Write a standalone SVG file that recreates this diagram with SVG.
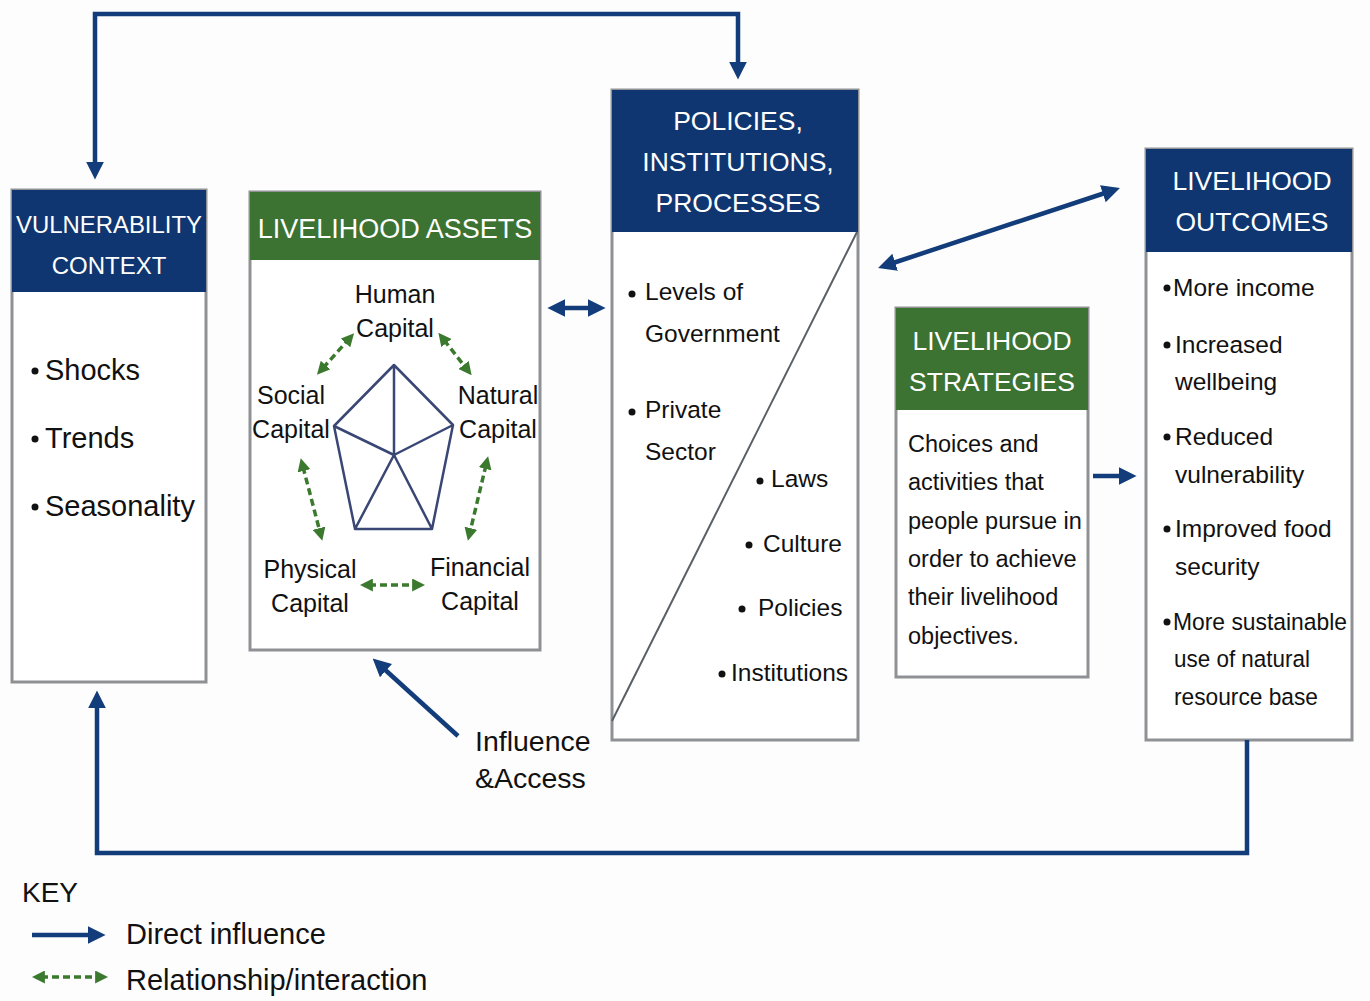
<svg xmlns="http://www.w3.org/2000/svg" width="1370" height="1001" viewBox="0 0 1370 1001">
<defs>
<style>
text{font-family:"Liberation Sans",Arial,sans-serif;fill:#111}
.hd{fill:#fff;font-size:26.5px;text-anchor:middle}
.box{fill:#fff;stroke:#8f9194;stroke-width:3}
.navy{fill:#0f3670}
.green{fill:#3c7232}
.lab{font-size:25px;text-anchor:middle}
.bl{font-size:24.5px}
.con{fill:none;stroke:#123c7a;stroke-width:4.5}
.rel{fill:none;stroke:#3b7a2e;stroke-width:3.5;stroke-dasharray:7 4}
.pent{fill:none;stroke:#3a4775;stroke-width:2.5;stroke-linejoin:round}
</style>
<marker id="an" viewBox="0 0 10 10" refX="3" refY="5" markerUnits="userSpaceOnUse" markerWidth="18" markerHeight="18" orient="auto-start-reverse"><path d="M0,0 L10,5 L0,10 z" fill="#123c7a"/></marker>
<marker id="ag" viewBox="0 0 10 10" refX="3" refY="5" markerUnits="userSpaceOnUse" markerWidth="13" markerHeight="13" orient="auto-start-reverse"><path d="M0,0 L10,5 L0,10 z" fill="#3b7a2e"/></marker>
</defs>
<rect width="1370" height="1001" fill="#fdfdfd"/>

<g id="vulnerability">
<rect class="box" x="12" y="190" width="194" height="492"/>
<rect class="navy" x="12" y="190" width="194" height="102"/>
<text class="hd" x="109" y="233" style="font-size:24px" textLength="186" lengthAdjust="spacingAndGlyphs">VULNERABILITY</text>
<text class="hd" x="109" y="274" style="font-size:24px">CONTEXT</text>
<circle cx="35" cy="371" r="3.5" fill="#111"/>
<circle cx="35" cy="439" r="3.5" fill="#111"/>
<circle cx="35" cy="507" r="3.5" fill="#111"/>
<text x="45" y="380" font-size="29">Shocks</text>
<text x="45" y="448" font-size="29">Trends</text>
<text x="45" y="516" font-size="29">Seasonality</text>
</g>

<g id="assets">
<rect class="box" x="250" y="192" width="290" height="458"/>
<rect class="green" x="250" y="192" width="290" height="68"/>
<text class="hd" x="395" y="238" style="font-size:27px">LIVELIHOOD ASSETS</text>
<path class="pent" d="M394,365 L334,426 L355,529 L432,529 L453,425 Z M394,365 L394,455 M334,426 L394,455 L453,425 M355,529 L394,455 L432,529"/>
<text class="lab" x="395" y="303">Human</text>
<text class="lab" x="395" y="337">Capital</text>
<text class="lab" x="291" y="404">Social</text>
<text class="lab" x="291" y="438">Capital</text>
<text class="lab" x="498" y="404">Natural</text>
<text class="lab" x="498" y="438">Capital</text>
<text class="lab" x="310" y="578">Physical</text>
<text class="lab" x="310" y="612">Capital</text>
<text class="lab" x="480" y="576">Financial</text>
<text class="lab" x="480" y="610">Capital</text>
</g>

<g id="policies">
<rect class="box" x="612" y="90" width="246" height="650"/>
<rect class="navy" x="612" y="90" width="246" height="142"/>
<text class="hd" x="738" y="130">POLICIES,</text>
<text class="hd" x="738" y="171">INSTITUTIONS,</text>
<text class="hd" x="738" y="212">PROCESSES</text>
<line x1="857" y1="232" x2="612" y2="721" stroke="#5a5f66" stroke-width="2"/>
<circle cx="632" cy="294" r="3.5" fill="#111"/>
<circle cx="632" cy="412" r="3.5" fill="#111"/>
<circle cx="760" cy="481" r="3.5" fill="#111"/>
<circle cx="749" cy="545" r="3.5" fill="#111"/>
<circle cx="742" cy="609" r="3.5" fill="#111"/>
<circle cx="722" cy="674" r="3.5" fill="#111"/>
<text class="bl" x="645" y="300">Levels of</text>
<text class="bl" x="645" y="342">Government</text>
<text class="bl" x="645" y="418">Private</text>
<text class="bl" x="645" y="460">Sector</text>
<text class="bl" x="771" y="487">Laws</text>
<text class="bl" x="763" y="552">Culture</text>
<text class="bl" x="758" y="616">Policies</text>
<text class="bl" x="731" y="681">Institutions</text>
</g>

<g id="strategies">
<rect class="box" x="896" y="308" width="192" height="369"/>
<rect class="green" x="896" y="308" width="192" height="102"/>
<text class="hd" x="992" y="350">LIVELIHOOD</text>
<text class="hd" x="992" y="391">STRATEGIES</text>
<text x="908" y="452" font-size="23.5">Choices and</text>
<text x="908" y="490" font-size="23.5">activities that</text>
<text x="908" y="529" font-size="23.5">people pursue in</text>
<text x="908" y="567" font-size="23.5">order to achieve</text>
<text x="908" y="605" font-size="23.5">their livelihood</text>
<text x="908" y="644" font-size="23.5">objectives.</text>
</g>

<g id="outcomes">
<rect class="box" x="1146" y="149" width="206" height="591"/>
<rect class="navy" x="1146" y="149" width="206" height="103"/>
<text class="hd" x="1252" y="190">LIVELIHOOD</text>
<text class="hd" x="1252" y="231">OUTCOMES</text>
<circle cx="1167" cy="288" r="3.5" fill="#111"/>
<circle cx="1167" cy="345" r="3.5" fill="#111"/>
<circle cx="1167" cy="437" r="3.5" fill="#111"/>
<circle cx="1167" cy="529" r="3.5" fill="#111"/>
<circle cx="1167" cy="622" r="3.5" fill="#111"/>
<text class="bl" x="1173" y="296">More income</text>
<text class="bl" x="1175" y="353">Increased</text>
<text class="bl" x="1175" y="390">wellbeing</text>
<text class="bl" x="1175" y="445">Reduced</text>
<text class="bl" x="1175" y="483">vulnerability</text>
<text class="bl" x="1175" y="537">Improved food</text>
<text class="bl" x="1175" y="575">security</text>
<text class="bl" x="1173" y="630" textLength="174" lengthAdjust="spacingAndGlyphs">More sustainable</text>
<text class="bl" x="1174" y="667" textLength="136" lengthAdjust="spacingAndGlyphs">use of natural</text>
<text class="bl" x="1174" y="705" textLength="144" lengthAdjust="spacingAndGlyphs">resource base</text>
</g>

<g id="influence-label">
<text x="475" y="751" font-size="28.5">Influence</text>
<text x="475" y="788" font-size="28.5">&amp;Access</text>
</g>

<g id="key">
<text x="22" y="902" font-size="28">KEY</text>
<text x="126" y="944" font-size="29">Direct influence</text>
<text x="126" y="990" font-size="29">Relationship/interaction</text>
</g>

<g id="connectors">
<path class="con" d="M95,167 L95,14 L738,14 L738,67" marker-start="url(#an)" marker-end="url(#an)"/>
<path class="con" d="M1247,740 L1247,853 L97,853 L97,703" marker-end="url(#an)"/>
<line class="con" x1="560" y1="308" x2="593" y2="308" stroke-width="5.5" marker-start="url(#an)" marker-end="url(#an)"/>
<line class="con" x1="890" y1="264" x2="1108" y2="192" marker-start="url(#an)" marker-end="url(#an)"/>
<line class="con" x1="1093" y1="476" x2="1124" y2="476" stroke-width="5.5" marker-end="url(#an)"/>
<line class="con" x1="458" y1="736" x2="382" y2="667" stroke-width="5.5" marker-end="url(#an)"/>
<line class="con" x1="32" y1="935" x2="93" y2="935" stroke-width="6" marker-end="url(#an)"/>
<line class="rel" x1="323" y1="368" x2="348" y2="340" marker-start="url(#ag)" marker-end="url(#ag)"/>
<line class="rel" x1="444" y1="340" x2="466" y2="368" marker-start="url(#ag)" marker-end="url(#ag)"/>
<line class="rel" x1="303" y1="467" x2="320" y2="532" marker-start="url(#ag)" marker-end="url(#ag)"/>
<line class="rel" x1="486" y1="465" x2="470" y2="532" marker-start="url(#ag)" marker-end="url(#ag)"/>
<line class="rel" x1="369" y1="585" x2="416" y2="585" marker-start="url(#ag)" marker-end="url(#ag)"/>
<line class="rel" x1="41" y1="977" x2="99" y2="977" marker-start="url(#ag)" marker-end="url(#ag)"/>
</g>
</svg>
